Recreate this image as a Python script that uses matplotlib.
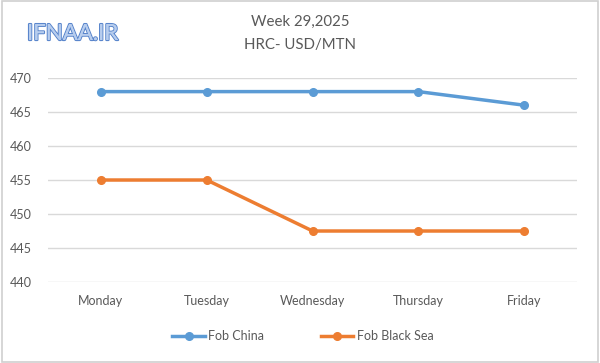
import matplotlib
matplotlib.use("Agg")
import matplotlib.pyplot as plt
import matplotlib.patheffects as pe
from matplotlib.lines import Line2D
from matplotlib.patches import Rectangle

days = ["Monday", "Tuesday", "Wednesday", "Thursday", "Friday"]
fob_china = [468, 468, 468, 468, 466]
fob_black_sea = [455, 455, 447.5, 447.5, 447.5]
yticks = [440, 445, 450, 455, 460, 465, 470]

plt.rcParams['font.family'] = ['Lato', 'DejaVu Sans']
txt = '#595959'
blue = '#5B9BD5'
orange = '#ED7D31'

fig = plt.figure(figsize=(6, 3.63), dpi=100)
ax = fig.add_axes([0.08, 0.2231, 0.882, 0.562])

x = list(range(len(days)))
ax.plot(x, fob_china, color=blue, lw=2.5, marker='o', ms=5.5, label='Fob China', solid_capstyle='round')
ax.plot(x, fob_black_sea, color=orange, lw=2.5, marker='o', ms=5.5, label='Fob Black Sea', solid_capstyle='round')

ax.set_xlim(-0.5, 4.5)
ax.set_ylim(440, 470)
ax.set_yticks(yticks)
ax.set_xticks(x)
ax.set_xticklabels(days)
ax.grid(axis='y', color='#D9D9D9', lw=1)
ax.set_axisbelow(True)
for s in ax.spines.values():
    s.set_visible(False)
ax.tick_params(axis='both', length=0, colors=txt, labelsize=9)
ax.tick_params(axis='x', pad=9)
ax.tick_params(axis='y', pad=12)

fig.text(0.5, 1 - 22/363, "Week 29,2025", ha='center', va='center', color=txt, fontsize=10.8)
fig.text(0.5, 1 - 45/363, "HRC- USD/MTN", ha='center', va='center', color=txt, fontsize=10.8)

wm = fig.text(27/600, 1 - 34/363, "IFNAA.IR", ha='left', va='center', color='#B7CDEE', fontsize=16)
wm.set_path_effects([pe.withStroke(linewidth=1.6, foreground='#5A86CC'), pe.Normal()])

handles = [Line2D([0], [0], color=blue, lw=2.5, marker='o', ms=5.5),
           Line2D([0], [0], color=orange, lw=2.5, marker='o', ms=5.5)]
leg = fig.legend(handles, ['Fob China', 'Fob Black Sea'], loc='center', bbox_to_anchor=(0.505, 1 - 336/363),
                 ncol=2, frameon=False, fontsize=9, labelcolor=txt, columnspacing=4.5, handlelength=2.6,
                 handletextpad=0.3)

fig.patches.append(Rectangle((0.003, 0.003), 0.994, 0.994, transform=fig.transFigure, fill=False,
                             edgecolor='#D0D0D0', lw=1.2))

fig.savefig('out.png', dpi=100)
